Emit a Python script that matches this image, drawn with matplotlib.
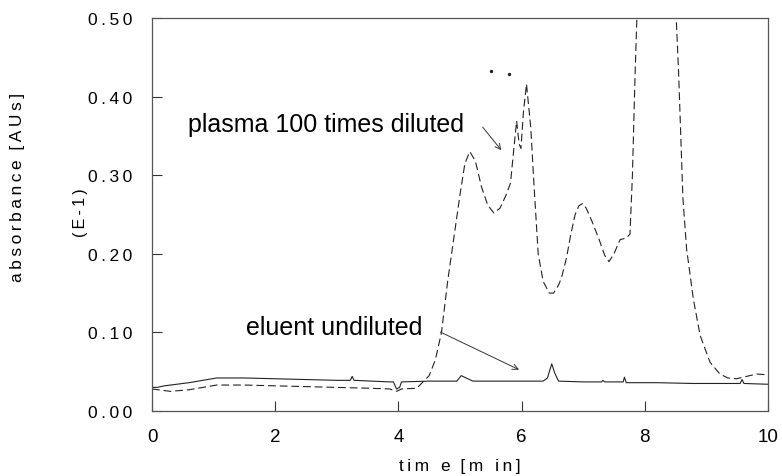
import matplotlib
matplotlib.use("Agg")
import matplotlib.pyplot as plt

plt.rcParams['font.family'] = ['Liberation Sans', 'DejaVu Sans']

# eluent undiluted (solid)
t_eluent = [0.0, 0.08, 0.2, 0.6, 1.05, 1.5, 2.0, 2.5, 3.0, 3.22, 3.25, 3.28,
            3.86, 3.92, 3.97, 4.02, 4.05, 4.5, 4.95, 5.02, 5.1, 5.21, 5.6, 6.0,
            6.35, 6.42, 6.49, 6.54, 6.6, 7.0, 7.3, 7.32, 7.35, 7.65, 7.67, 7.7,
            8.2, 8.79, 9.2, 9.55, 9.58, 9.61, 10.0]
a_eluent = [0.030, 0.030, 0.032, 0.036, 0.042, 0.042, 0.041, 0.040, 0.039, 0.039, 0.044, 0.039,
            0.037, 0.037, 0.028, 0.030, 0.037, 0.038, 0.038, 0.045, 0.042, 0.038, 0.038, 0.038,
            0.038, 0.042, 0.060, 0.048, 0.038, 0.037, 0.037, 0.039, 0.037, 0.037, 0.043, 0.036,
            0.036, 0.035, 0.035, 0.035, 0.040, 0.035, 0.034]

# plasma 100 times diluted (dashed)
t_plasma = [0.0, 0.1, 0.3, 0.6, 1.05, 1.5, 2.0, 2.5, 3.0, 3.5, 3.86, 3.97, 4.05,
            4.3, 4.4, 4.5, 4.6, 4.7, 4.8, 4.9, 5.0, 5.08, 5.16, 5.25, 5.35, 5.45,
            5.55, 5.65, 5.75, 5.82, 5.87, 5.92, 5.96, 5.99, 6.03, 6.08, 6.15, 6.2,
            6.27, 6.35, 6.45, 6.52, 6.6, 6.65, 6.73, 6.8, 6.87, 6.93, 6.99, 7.05, 7.15,
            7.26, 7.35, 7.42, 7.5, 7.6, 7.7, 7.76, 7.8, 7.84, 7.88, 8.0, 8.2, 8.4,
            8.5, 8.55, 8.62, 8.68, 8.79, 8.9, 9.06, 9.22, 9.35, 9.49, 9.65, 9.82, 10.0]
a_plasma = [0.028, 0.027, 0.025, 0.027, 0.033, 0.033, 0.032, 0.031, 0.030, 0.029, 0.028, 0.025, 0.028,
            0.029, 0.037, 0.045, 0.065, 0.100, 0.165, 0.220, 0.275, 0.315, 0.330, 0.318, 0.285, 0.262,
            0.252, 0.258, 0.275, 0.290, 0.330, 0.369, 0.340, 0.334, 0.380, 0.416, 0.360, 0.290,
            0.200, 0.165, 0.150, 0.150, 0.160, 0.170, 0.195, 0.225, 0.250, 0.261, 0.264, 0.258, 0.240,
            0.218, 0.198, 0.190, 0.200, 0.218, 0.220, 0.225, 0.300, 0.420, 0.520, 0.800, 0.900, 0.800,
            0.520, 0.430, 0.270, 0.206, 0.142, 0.096, 0.062, 0.047, 0.042, 0.041, 0.044, 0.047, 0.046]

# specks above the peaks
speck_t = [5.51, 5.80]
speck_a = [0.432, 0.429]

yticks = [0.0, 0.1, 0.2, 0.3, 0.4, 0.5]
xticks = [0, 2, 4, 6, 8, 10]

ts = '\u2009'
def spaced(s):
    return ts.join(s)

fig = plt.figure(figsize=(7.82, 4.77), dpi=100)
ax = fig.add_axes([0.1944, 0.1363, 0.7876, 0.8239])

ax.plot(t_eluent, a_eluent, color='#222222', lw=0.8)
ax.plot(t_plasma, a_plasma, color='#222222', lw=0.8, dashes=(7, 3.5))
ax.scatter(speck_t, speck_a, s=2, color='#222222')

ax.set_xlim(0, 10)
ax.set_ylim(0, 0.5)
ax.set_xticks(xticks)
ax.set_xticklabels([str(x) for x in xticks])
ax.set_yticks(yticks)
ax.set_yticklabels([spaced('%.2f' % y) for y in yticks])
ax.tick_params(direction='in', length=7, width=0.8, color='#333333')
ax.tick_params(axis='y', pad=14, labelsize=12.5)
ax.tick_params(axis='x', pad=12, labelsize=13.5)
for sp in ax.spines.values():
    sp.set_color('#555555')
    sp.set_linewidth(0.9)

ax.text(0.584, 0.356, 'plasma 100 times diluted', fontsize=18)
ax.annotate('', xy=(5.70, 0.329), xytext=(5.34, 0.364),
            arrowprops=dict(arrowstyle='->', lw=0.7, color='#333333'))
ax.text(1.53, 0.098, 'eluent undiluted', fontsize=18)
ax.annotate('', xy=(6.0, 0.051), xytext=(4.64, 0.102),
            arrowprops=dict(arrowstyle='->', lw=0.7, color='#333333'))

fig.text(18 / 782, 1 - 187 / 477, spaced('absorbance') + '  ' + spaced('[AUs]'),
         rotation=90, fontsize=12.5, ha='center', va='center')
fig.text(80 / 782, 1 - 213 / 477, spaced('(E-1)'), rotation=90, fontsize=11.5,
         ha='center', va='center')
fig.text(460 / 782, 1 - 467 / 477, spaced('tim e') + '  ' + spaced('[m in]'),
         fontsize=12.5, ha='center', va='center')

fig.savefig('out.png', dpi=100)
